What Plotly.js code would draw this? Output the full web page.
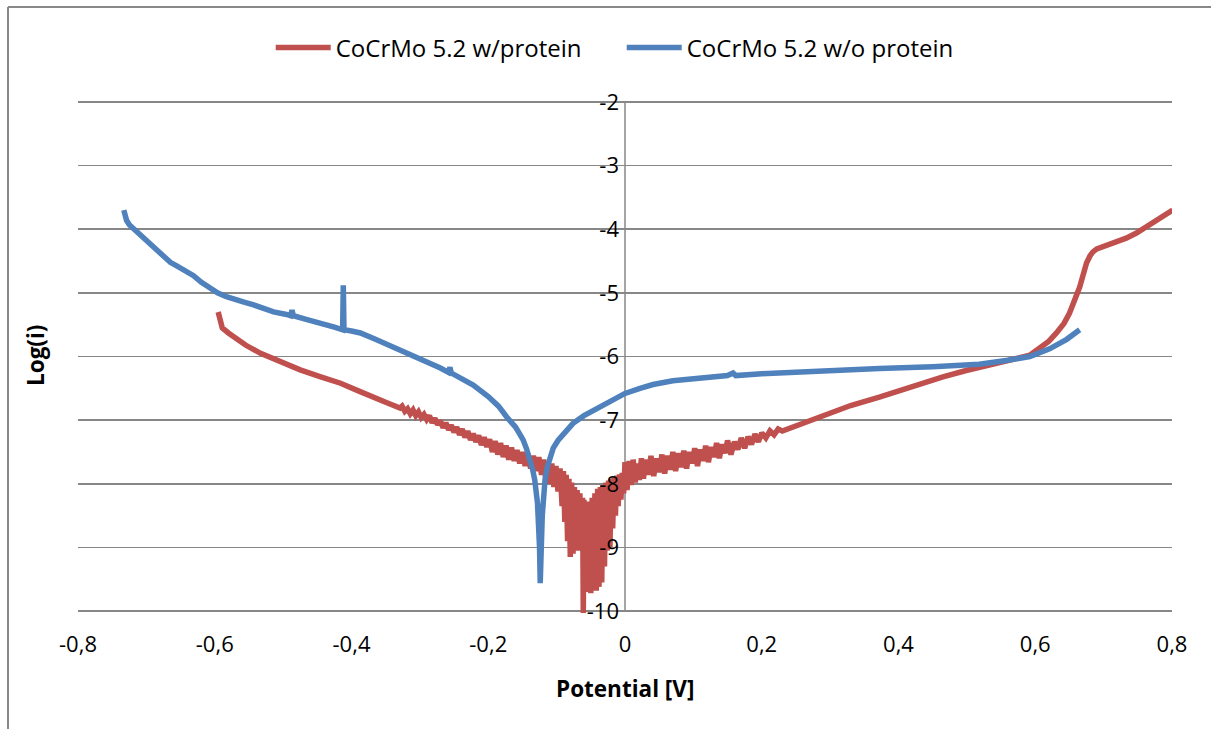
<!DOCTYPE html>
<html>
<head>
<meta charset="utf-8">
<script src="https://cdn.plot.ly/plotly-3.0.1.min.js"></script>
<style>
html,body{margin:0;padding:0;background:#fff;}
#chart{width:1211px;height:729px;}
</style>
</head>
<body>
<div id="chart"></div>
<script>
// ---- data ----
const seriesNames = ["CoCrMo 5.2 w/protein", "CoCrMo 5.2 w/o protein"];

const withProteinX = [
 -0.595,-0.592,-0.589,-0.580,-0.573,-0.555,-0.533,-0.505,-0.475,-0.445,
 -0.416,-0.390,-0.368,-0.350,-0.329,-0.326,-0.322,-0.318,-0.314,-0.310,
 -0.306,-0.302,-0.298,-0.294,-0.290,-0.286,-0.282,-0.278,-0.274,-0.270,
 -0.266,-0.262,-0.258,-0.254,-0.250,-0.246,-0.242,-0.238,-0.234,-0.230,
 -0.226,-0.222,-0.218,-0.214,-0.210,-0.206,-0.202,-0.198,-0.194,-0.190,
 -0.186,-0.182,-0.178,-0.174,-0.170,-0.166,-0.162,-0.158,-0.154,-0.150,
 -0.146,-0.142,-0.138,-0.134,-0.130,-0.126,-0.122,-0.119,-0.116,-0.113,
 -0.110,-0.107,-0.104,-0.101,-0.098,-0.095,-0.092,-0.090,-0.088,-0.086,
 -0.084,-0.082,-0.080,-0.078,-0.076,-0.074,-0.072,-0.070,-0.068,-0.066,
 -0.064,-0.062,-0.061,-0.060,-0.058,-0.056,-0.054,-0.052,-0.050,-0.048,
 -0.046,-0.044,-0.042,-0.040,-0.038,-0.036,-0.034,-0.032,-0.030,-0.028,
 -0.026,-0.024,-0.022,-0.020,-0.018,-0.016,-0.014,-0.012,-0.010,-0.008,
 -0.006,-0.004,-0.002,0.000,0.003,0.006,0.009,0.012,0.015,0.018,
 0.021,0.024,0.027,0.030,0.034,0.038,0.042,0.046,0.050,0.054,
 0.058,0.062,0.066,0.070,0.074,0.078,0.082,0.086,0.090,0.094,
 0.098,0.102,0.106,0.110,0.114,0.118,0.122,0.126,0.130,0.134,
 0.138,0.142,0.146,0.150,0.155,0.160,0.165,0.170,0.175,0.180,
 0.185,0.190,0.195,0.200,0.206,0.212,0.218,0.224,0.230,0.240,
 0.250,0.270,0.300,0.330,0.372,0.402,0.430,0.465,0.499,0.540,
 0.572,0.592,0.606,0.620,0.631,0.642,0.650,0.658,0.665,0.670,
 0.675,0.680,0.684,0.690,0.698,0.715,0.733,0.748,0.762,0.780,0.801];
const withProteinY = [
 -5.30,-5.45,-5.55,-5.63,-5.69,-5.82,-5.95,-6.08,-6.21,-6.32,
 -6.42,-6.54,-6.65,-6.72,-6.81,-6.78,-6.86,-6.82,-6.90,-6.84,
 -6.93,-6.87,-6.96,-6.91,-6.99,-6.93,-7.04,-6.97,-7.07,-7.01,
 -7.12,-7.04,-7.15,-7.08,-7.19,-7.11,-7.23,-7.14,-7.27,-7.17,
 -7.31,-7.21,-7.34,-7.24,-7.39,-7.27,-7.42,-7.30,-7.50,-7.33,
 -7.54,-7.36,-7.58,-7.40,-7.62,-7.43,-7.64,-7.47,-7.68,-7.50,
 -7.72,-7.53,-7.76,-7.56,-7.80,-7.58,-7.86,-7.62,-7.92,-7.65,
 -8.00,-7.68,-8.05,-7.72,-8.12,-7.76,-8.35,-7.80,-8.60,-7.86,
 -8.90,-7.92,-9.15,-7.98,-9.10,-8.05,-9.00,-8.10,-9.05,-8.15,
 -8.95,-8.22,-10.05,-8.25,-9.70,-8.28,-9.60,-8.30,-9.72,-8.22,
 -9.55,-8.15,-9.68,-8.08,-9.62,-8.05,-9.55,-8.02,-9.30,-7.98,
 -9.05,-7.95,-9.00,-7.92,-8.70,-7.90,-8.50,-7.87,-8.35,-7.85,
 -8.25,-7.83,-8.15,-7.66,-8.10,-7.64,-8.02,-7.62,-7.98,-7.68,
 -7.94,-7.60,-7.92,-7.62,-7.86,-7.56,-7.88,-7.60,-7.82,-7.54,
 -7.84,-7.56,-7.78,-7.50,-7.80,-7.52,-7.74,-7.48,-7.76,-7.50,
 -7.68,-7.44,-7.72,-7.46,-7.64,-7.40,-7.66,-7.42,-7.58,-7.36,
 -7.60,-7.38,-7.52,-7.32,-7.54,-7.34,-7.46,-7.28,-7.44,-7.26,
 -7.38,-7.22,-7.34,-7.20,-7.28,-7.17,-7.23,-7.14,-7.17,-7.13,
 -7.08,-7.00,-6.89,-6.77,-6.64,-6.53,-6.43,-6.32,-6.22,-6.12,
 -6.05,-5.98,-5.87,-5.76,-5.63,-5.48,-5.32,-5.12,-4.91,-4.72,
 -4.53,-4.42,-4.36,-4.31,-4.28,-4.21,-4.14,-4.06,-3.97,-3.85,-3.70];

const withoutProteinX = [
 -0.733,-0.731,-0.729,-0.725,-0.719,-0.713,-0.705,-0.695,-0.685,-0.675,
 -0.665,-0.655,-0.645,-0.631,-0.620,-0.608,-0.596,-0.583,-0.570,-0.556,
 -0.543,-0.514,-0.495,-0.489,-0.487,-0.485,-0.465,-0.446,-0.425,-0.413,
 -0.412,-0.411,-0.400,-0.387,-0.365,-0.339,-0.315,-0.290,-0.270,-0.258,
 -0.256,-0.254,-0.241,-0.222,-0.200,-0.185,-0.173,-0.166,-0.160,-0.155,
 -0.149,-0.144,-0.139,-0.135,-0.132,-0.128,-0.125,-0.124,-0.123,-0.121,
 -0.119,-0.117,-0.114,-0.110,-0.105,-0.098,-0.090,-0.083,-0.076,-0.060,
 -0.037,-0.015,0.000,0.022,0.041,0.070,0.110,0.150,0.158,0.162,
 0.200,0.256,0.300,0.372,0.450,0.518,0.560,0.592,0.621,0.646,0.665];
const withoutProteinY = [
 -3.70,-3.78,-3.86,-3.93,-3.99,-4.05,-4.12,-4.22,-4.32,-4.43,
 -4.52,-4.58,-4.64,-4.73,-4.83,-4.92,-5.00,-5.06,-5.11,-5.15,
 -5.19,-5.30,-5.34,-5.36,-5.27,-5.36,-5.42,-5.47,-5.54,-5.58,
 -4.88,-5.58,-5.60,-5.63,-5.73,-5.85,-5.97,-6.09,-6.18,-6.25,
 -6.17,-6.26,-6.33,-6.45,-6.63,-6.78,-6.95,-7.03,-7.11,-7.20,
 -7.31,-7.45,-7.62,-7.78,-7.94,-8.30,-9.00,-9.56,-9.20,-8.50,
 -8.10,-7.94,-7.75,-7.58,-7.44,-7.32,-7.22,-7.13,-7.05,-6.93,
 -6.80,-6.67,-6.58,-6.50,-6.44,-6.38,-6.34,-6.30,-6.26,-6.30,
 -6.27,-6.24,-6.22,-6.19,-6.16,-6.12,-6.06,-6.00,-5.88,-5.73,-5.58];

const xTickVals = [-0.8,-0.6,-0.4,-0.2,0,0.2,0.4,0.6,0.8];
const xTickText = ["-0,8","-0,6","-0,4","-0,2","0","0,2","0,4","0,6","0,8"];
const yTickVals = [-2,-3,-4,-5,-6,-7,-8,-9,-10];
const yTickText = ["-2","-3","-4","-5","-6","-7","-8","-9","-10"];

const xTitle = "Potential [V]";
const yTitle = "Log(i)";

// ---- chart ----
const FONT = "Open Sans, Noto Sans, sans-serif";
const RED = "#C0504D", BLUE = "#4F81BD", GRID = "#878787";
const W = 1211, H = 729, ML = 78, MR = 39, MT = 100, MB = 116;
const PW = W - ML - MR, PH = H - MT - MB;
const px2x = p => (p - ML) / PW;
const py2y = p => (H - MB - p) / PH;

const traces = [
  {x: withProteinX, y: withProteinY, name: seriesNames[0], type: "scatter", mode: "lines",
   line: {color: RED, width: 5.5}},
  {x: withoutProteinX, y: withoutProteinY, name: seriesNames[1], type: "scatter", mode: "lines",
   line: {color: BLUE, width: 5.5}}
];

const layout = {
  width: W, height: H,
  margin: {l: ML, r: MR, t: MT, b: MB, pad: 0},
  paper_bgcolor: "#fff", plot_bgcolor: "#fff",
  font: {family: FONT, size: 22, color: "#000"},
  showlegend: true,
  legend: {orientation: "h", x: 0.497, xanchor: "center", y: py2y(48), yanchor: "middle",
           font: {family: FONT, size: 24, color: "#000"}, itemwidth: 55, entrywidth: 281, entrywidthmode: "pixels",
           tracegroupgap: 0, bgcolor: "rgba(0,0,0,0)"},
  xaxis: {range: [-0.8, 0.8], domain: [0, 1], tickvals: xTickVals, ticktext: xTickText,
          showgrid: false, zeroline: false, showline: false,
          ticks: "outside", ticklen: 12, tickcolor: "rgba(0,0,0,0)",
          tickfont: {family: FONT, size: 22, color: "#000"}, fixedrange: true},
  yaxis: {range: [-10.03, -1.97], anchor: "free", position: 0.5, tickvals: yTickVals, ticktext: yTickText,
          showgrid: true, gridcolor: GRID, gridwidth: 1.5, zeroline: false,
          showline: false, ticks: "", ticklabelstandoff: 6,
          tickfont: {family: FONT, size: 22, color: "#000"}, fixedrange: true},
  annotations: [
    {text: "<b>" + xTitle + "</b>", xref: "paper", yref: "paper", x: 0.5, y: py2y(688),
     xanchor: "center", yanchor: "middle", showarrow: false, font: {family: FONT, size: 22.5, color: "#000"}},
    {text: "<b>" + yTitle + "</b>", xref: "paper", yref: "paper", x: px2x(35), y: py2y(356),
     xanchor: "center", yanchor: "middle", textangle: -90, showarrow: false, font: {family: FONT, size: 22.5, color: "#000"}}
  ],
  shapes: [
    // vertical axis line at x = 0, spanning -2 .. -10
    {type: "line", xref: "x", yref: "y", x0: 0, x1: 0, y0: yTickVals[0], y1: yTickVals[yTickVals.length - 1],
     line: {color: GRID, width: 1.5}, layer: "below"},
    // outer chart frame (left and top edges)
    {type: "line", xref: "paper", yref: "paper", x0: px2x(8), x1: px2x(8), y0: py2y(729), y1: py2y(7),
     line: {color: "#888", width: 2}},
    {type: "line", xref: "paper", yref: "paper", x0: px2x(8), x1: px2x(1211), y0: py2y(7), y1: py2y(7),
     line: {color: "#888", width: 2}}
  ]
};

Plotly.newPlot("chart", traces, layout, {displayModeBar: false, staticPlot: true});
</script>
</body>
</html>
